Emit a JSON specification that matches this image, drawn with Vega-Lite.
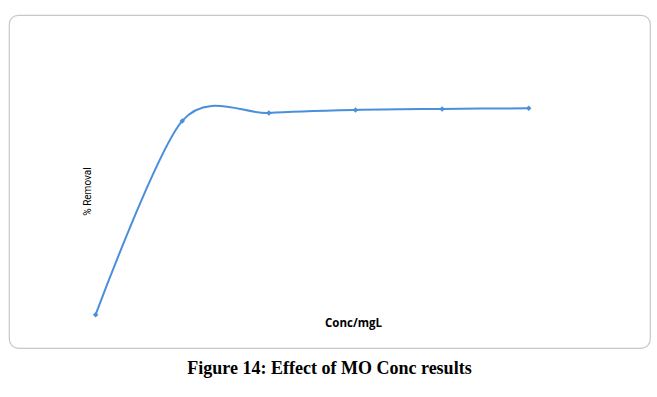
{
  "$schema": "https://vega.github.io/schema/vega-lite/v6.json",
  "width": 641,
  "height": 333,
  "autosize": {"type": "none"},
  "padding": {"left": 9, "top": 15, "right": 7, "bottom": 49},
  "background": "white",
  "config": {
    "view": {"stroke": "#c8c8c8", "strokeWidth": 1.2, "cornerRadius": 9}
  },
  "title": {
    "text": "Figure 14: Effect of MO Conc results",
    "orient": "bottom",
    "anchor": "middle",
    "frame": "group",
    "offset": 12,
    "font": "Liberation Serif",
    "fontSize": 18,
    "fontWeight": "bold",
    "color": "#000000",
    "baseline": "top"
  },
  "data": {
    "values": [
      {"conc": 10, "removal": 10.0},
      {"conc": 20, "removal": 68.2},
      {"conc": 30, "removal": 70.6},
      {"conc": 40, "removal": 71.5},
      {"conc": 50, "removal": 71.8},
      {"conc": 60, "removal": 72.0}
    ]
  },
  "encoding": {
    "x": {
      "field": "conc",
      "type": "quantitative",
      "scale": {"domain": [0, 74], "nice": false, "zero": false},
      "axis": {
        "title": "Conc/mgL",
        "domain": false, "ticks": false, "labels": false, "grid": false,
        "titleX": 344, "titleY": -25,
        "titleAlign": "center", "titleBaseline": "middle",
        "titleFont": "Open Sans", "titleFontSize": 11.5, "titleFontWeight": "bold",
        "titleColor": "#000000"
      }
    },
    "y": {
      "field": "removal",
      "type": "quantitative",
      "scale": {"domain": [0, 100], "nice": false},
      "axis": {
        "title": "% Removal",
        "domain": false, "ticks": false, "labels": false, "grid": false,
        "titleX": 78, "titleY": 176, "titleAngle": -90,
        "titleAlign": "center", "titleBaseline": "middle",
        "titleFont": "Roboto", "titleFontSize": 10, "titleFontWeight": "normal",
        "titleColor": "#000000"
      }
    }
  },
  "layer": [
    {
      "mark": {"type": "line", "interpolate": "cardinal", "tension": 0.12, "color": "#4a8fdb", "strokeWidth": 2}
    },
    {
      "mark": {"type": "point", "shape": "diamond", "filled": true, "size": 30, "color": "#4a8fdb", "opacity": 1}
    }
  ]
}
